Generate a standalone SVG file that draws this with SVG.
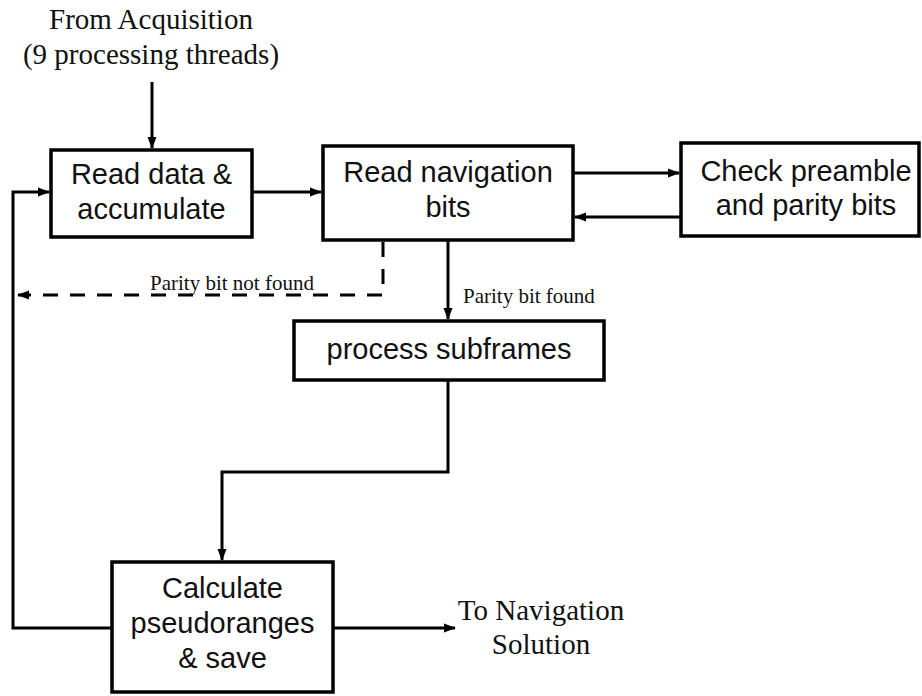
<svg xmlns="http://www.w3.org/2000/svg" width="922" height="696" viewBox="0 0 922 696">
  <style>
    .box { fill: #ffffff; stroke: #000000; stroke-width: 3.5; }
    .lbl { font-family: "Liberation Sans", Arial, sans-serif; font-size: 29px; fill: #111111; text-anchor: middle; }
    .note { font-family: "Liberation Serif", "Times New Roman", serif; fill: #111111; }
    .big { font-size: 29px; }
    .small { font-size: 21px; }
    .wire { fill: none; stroke: #000000; stroke-width: 3; }
    .dash { stroke-dasharray: 15 12; }
  </style>
  <defs>
    <marker id="arrow" markerUnits="userSpaceOnUse" markerWidth="12" markerHeight="12" viewBox="0 0 12 12" refX="11" refY="6" orient="auto">
      <path d="M0,1.5 L12,6 L0,10.5 Z" fill="#000000"/>
    </marker>
  </defs>

  <rect width="922" height="696" fill="#ffffff"/>

  <!-- input label -->
  <g id="source">
    <text class="note big" x="151" y="29" text-anchor="middle">From Acquisition</text>
    <text class="note big" x="151" y="64" text-anchor="middle">(9 processing threads)</text>
  </g>

  <g id="read-data">
    <rect class="box" x="51" y="150" width="201" height="87"/>
    <text class="lbl" x="151.5" y="184">Read data &amp;</text>
    <text class="lbl" x="151.5" y="219">accumulate</text>
  </g>

  <g id="read-nav">
    <rect class="box" x="323" y="146" width="250" height="94"/>
    <text class="lbl" x="448" y="182">Read navigation</text>
    <text class="lbl" x="448" y="217">bits</text>
  </g>

  <g id="check-parity">
    <rect class="box" x="681" y="143" width="238" height="93"/>
    <text class="lbl" x="806" y="181">Check preamble</text>
    <text class="lbl" x="806" y="215">and parity bits</text>
  </g>

  <g id="subframes">
    <rect class="box" x="294" y="321" width="310" height="59"/>
    <text class="lbl" x="449" y="359">process subframes</text>
  </g>

  <g id="pseudoranges">
    <rect class="box" x="112" y="562" width="221" height="130"/>
    <text class="lbl" x="222.5" y="598">Calculate</text>
    <text class="lbl" x="222.5" y="633">pseudoranges</text>
    <text class="lbl" x="222.5" y="668">&amp; save</text>
  </g>

  <g id="output">
    <text class="note big" x="541" y="620" text-anchor="middle">To Navigation</text>
    <text class="note big" x="541" y="654" text-anchor="middle">Solution</text>
  </g>

  <g id="connectors">
    <path class="wire" d="M152,82 V148" marker-end="url(#arrow)"/>
    <path class="wire" d="M252,192 H321" marker-end="url(#arrow)"/>
    <path class="wire" d="M573,173 H679" marker-end="url(#arrow)"/>
    <path class="wire" d="M681,217 H575" marker-end="url(#arrow)"/>
    <path class="wire" d="M448,240 V319" marker-end="url(#arrow)"/>
    <path class="wire dash" d="M383,242 V295 H18" marker-end="url(#arrow)"/>
    <path class="wire" d="M448,380 V472 H222 V560" marker-end="url(#arrow)"/>
    <path class="wire" d="M112,628 H13 V192 H49" marker-end="url(#arrow)"/>
    <path class="wire" d="M333,628 H455" marker-end="url(#arrow)"/>
    <text class="note small" x="150" y="290">Parity bit not found</text>
    <text class="note small" x="463" y="303">Parity bit found</text>
  </g>
</svg>
